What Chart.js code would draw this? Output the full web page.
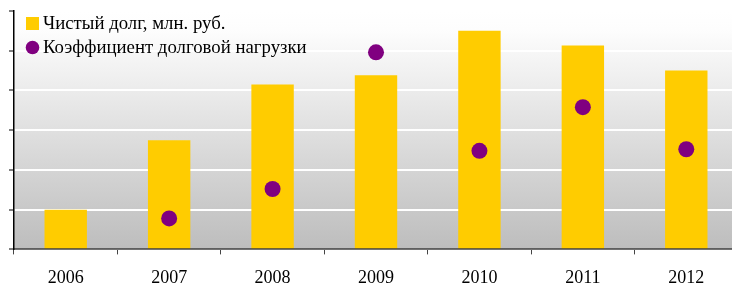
<!DOCTYPE html>
<html>
<head>
<meta charset="utf-8">
<script src="https://cdn.jsdelivr.net/npm/chart.js@4/dist/chart.umd.min.js"></script>
<style>
  html, body { margin: 0; padding: 0; background: #fff; overflow: hidden; }
  #wrap { width: 746px; height: 302px; }
</style>
</head>
<body>
<div id="wrap"><canvas id="debtChart" width="746" height="302"></canvas></div>
<script>
// данные (шкала без подписей, значения оценены по картинке)
const years = ['2006', '2007', '2008', '2009', '2010', '2011', '2012'];
const netDebt = [1000, 2750, 4150, 4380, 5500, 5130, 4500];
const debtRatio = [null, 0.39, 0.76, 2.48, 1.24, 1.79, 1.26];
const debtTicks = [0, 1000, 2000, 3000, 4000, 5000, 6000];

const debtLabel = 'Чистый долг, млн. руб.';
const ratioLabel = 'Коэффициент долговой нагрузки';

(() => {
    const font = '"Liberation Serif", "Times New Roman", serif';

    // фон области графика: градиент сверху вниз
    const plotBackground = {
        id: 'plotBackground',
        beforeDraw(chart) {
            const { ctx, chartArea: a } = chart;
            const g = ctx.createLinearGradient(0, a.top, 0, a.bottom);
            g.addColorStop(0, '#ffffff');
            g.addColorStop(0.08, '#fdfdfd');
            g.addColorStop(1, '#bdbdbd');
            ctx.save();
            ctx.fillStyle = g;
            ctx.fillRect(a.left, a.top, a.right - a.left, a.bottom - a.top);
            ctx.restore();
        }
    };

    // легенда внутри области графика
    const innerLegend = {
        id: 'innerLegend',
        afterDraw(chart) {
            const { ctx, chartArea: a } = chart;
            const ds = chart.data.datasets;
            const x = a.left + 12;
            const y1 = a.top + 12;
            const y2 = y1 + 24;
            ctx.save();
            ctx.font = '18.8px ' + font;
            ctx.textBaseline = 'middle';
            ctx.fillStyle = ds[1].backgroundColor;
            ctx.fillRect(x, y1 - 6, 13, 13);
            ctx.fillStyle = ds[0].backgroundColor;
            ctx.beginPath();
            ctx.arc(x + 6.5, y2 + 0.5, 6.8, 0, Math.PI * 2);
            ctx.fill();
            ctx.fillStyle = '#000';
            ctx.fillText(ds[1].label, x + 17, y1 + 1);
            ctx.fillText(ds[0].label, x + 17, y2 + 1);
            ctx.restore();
        }
    };

    const ctx = document.getElementById('debtChart');
    new Chart(ctx, {
        data: {
            labels: years,
            datasets: [{
                type: 'line',
                label: ratioLabel,
                data: debtRatio,
                yAxisID: 'y2',
                showLine: false,
                backgroundColor: '#800080',
                borderColor: '#800080',
                pointRadius: 8,
                pointHoverRadius: 8,
                pointBorderWidth: 0,
                order: 1
            }, {
                type: 'bar',
                label: debtLabel,
                data: netDebt,
                backgroundColor: '#ffcc00',
                borderWidth: 0,
                categoryPercentage: 1,
                barPercentage: 0.41,
                order: 2
            }]
        },
        options: {
            responsive: false,
            animation: false,
            devicePixelRatio: 1,
            layout: { padding: { left: 9, top: 11, right: 2.5, bottom: -1 } },
            plugins: {
                legend: { display: false },
                tooltip: { enabled: false },
                title: { display: false }
            },
            scales: {
                x: {
                    offset: true,
                    grid: {
                        offset: true,
                        drawOnChartArea: false,
                        drawTicks: true,
                        tickLength: 5,
                        color: '#444',
                        lineWidth: 1
                    },
                    border: { display: true, color: 'rgba(0,0,0,0.5)', width: 2, z: 1 },
                    ticks: {
                        color: '#000',
                        padding: 13.5,
                        font: { family: font, size: 18 }
                    }
                },
                y: {
                    min: debtTicks[0],
                    max: debtTicks[debtTicks.length - 1],
                    afterBuildTicks: (axis) => { axis.ticks = debtTicks.map(v => ({ value: v })); },
                    grid: {
                        color: (c) => c.tick && c.tick.value === 0 ? 'rgba(0,0,0,0)' : '#ffffff',
                        lineWidth: 2,
                        drawTicks: true,
                        tickLength: 5,
                        tickColor: '#000',
                        tickWidth: 1
                    },
                    border: { display: true, color: '#000', width: 1.5 },
                    ticks: { display: false }
                },
                y2: {
                    display: false,
                    min: 0,
                    max: 3
                }
            }
        },
        plugins: [plotBackground, innerLegend]
    });
})();
</script>
</body>
</html>
